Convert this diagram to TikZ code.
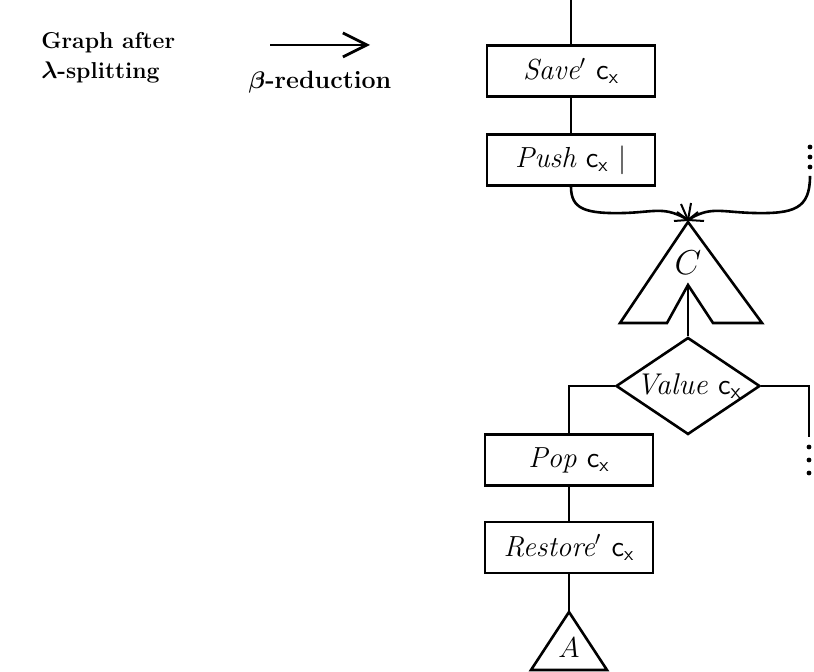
\documentclass[tikz,border=0pt]{standalone}
\usepackage{amsmath,amssymb}
\usepackage{xcolor}
\usepackage{tikz}
\usetikzlibrary{calc}
\usetikzlibrary{arrows.meta,shapes.geometric}

\newcommand{\cx}{$\mathsf{c}_{\mathsf{x}}$}

\begin{document}
\begin{tikzpicture}[x=5pt,y=5pt,line width=1.3pt,
    box/.style={draw,rectangle,minimum width=84pt,minimum height=25.5pt,
        inner sep=0pt,font=\fontsize{14.5}{16}\selectfont\itshape},
    headtext/.style={inner sep=0pt,font=\fontsize{11.5}{15}\selectfont\bfseries}]

\useasboundingbox (0,0) rectangle (81.4,67.2);

% Caption and reduction arrow
\node[headtext,align=left,anchor=north west] (title) at (4.0,64.1)
    {Graph after\\$\boldsymbol{\lambda}$-splitting};
\coordinate (arrS) at (27.0,62.7);
\coordinate (arrE) at (37.0,62.7);
\draw[line width=1.4pt,-{Straight Barb[length=12pt,width=12pt]}] (arrS) -- (arrE);
\node[headtext,font=\fontsize{12.5}{15}\selectfont\bfseries,anchor=base] (beta)
    at (32.0,58.3) {$\boldsymbol{\beta}$-reduction};

% Upper chain
\coordinate (top) at (57.1,67.2);
\node[box] (save) at (57.1,60.1) {Save$'$ \cx};
\node[box] (push) at (57.1,51.2) {Push \cx\ $|$};
\draw (top) -- (save);
\draw (save) -- (push);

% Joining point above C
\coordinate (J) at (68.8,45.2);
\coordinate (rtop) at (81.0,49.6);
\foreach \y in {52.5,51.5,50.5} {
    \fill (81.0,\y) circle (1.2pt);
}
\draw (push.south) .. controls (57.1,46.3) and (58.5,45.8) .. (62.5,45.9)
    .. controls (65.5,46.0) and (66.5,46.6) .. (J);
\draw (rtop) .. controls (81.0,46.3) and (79.4,45.8) .. (75.3,45.9)
    .. controls (72.0,46.0) and (71.0,46.6) .. (J);
\foreach \dx/\dy in {-1.4/-0.1,1.6/-0.1,-0.7/1.6,0.3/1.7,-1.1/0.8,1.0/0.8} {
    \draw[line width=1pt] (J) -- ++(\dx,\dy);
}

% Tree C with its hole
\coordinate (notch) at (68.8,38.7);
\draw (68.8,45.0) -- (76.2,34.9) -- (71.3,34.9) -- (notch)
    -- (66.7,34.9) -- (62.0,34.9) -- cycle;
\node[font=\fontsize{16}{18}\selectfont] (clab) at (68.8,40.9) {$C$};

% Test on the value
\node[diamond,draw,minimum width=72pt,minimum height=48.5pt,inner sep=0pt,
    label={[font=\fontsize{15}{17}\selectfont\itshape,xshift=0.5pt]center:Value \cx}]
    (val) at (68.8,28.6) {};
\draw (notch) -- (val.north);

% Lower chain
\node[box] (pop) at (56.9,21.2) {Pop \cx};
\node[box] (rest) at (56.9,12.45) {Restore$'$ \cx};
\draw (val.west) -| (pop.north);
\draw (pop) -- (rest);

\coordinate (rbot) at (80.9,23.5);
\draw (val.east) -| (rbot);
\foreach \y in {22.5,21.2,19.9} {
    \fill (80.9,\y) circle (1.2pt);
}

% Tree A
\coordinate (aapex) at (56.9,6.0);
\draw (rest.south) -- (aapex);
\draw (aapex) -- (60.7,0.2) -- (53.1,0.2) -- cycle;
\node[font=\fontsize{14}{16}\selectfont] (alab) at (56.9,2.4) {$A$};

\end{tikzpicture}
\end{document}
